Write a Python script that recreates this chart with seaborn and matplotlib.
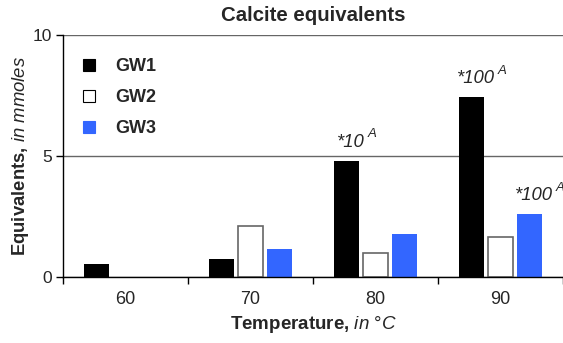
import matplotlib.pyplot as plt
import seaborn as sns
import numpy as np
import pandas as pd

sns.set_theme(style='white')
plt.rcParams['font.family'] = ['Liberation Sans', 'DejaVu Sans']
plt.rcParams['mathtext.fontset'] = 'custom'
plt.rcParams['mathtext.rm'] = 'Liberation Sans'
plt.rcParams['mathtext.it'] = 'Liberation Sans:italic'
plt.rcParams['mathtext.bf'] = 'Liberation Sans:bold'

# data
temps = ['60', '70', '80', '90']
gw1 = [0.56, 0.76, 4.81, 7.43]
gw2 = [0.0, 2.13, 1.00, 1.66]
gw3 = [0.0, 1.15, 1.77, 2.60]
series = ['GW1', 'GW2', 'GW3']
# annotations: (series index, category index, text)
notes = [(0, 2, '*10'), (0, 3, '*100'), (2, 3, '*100')]

df = pd.DataFrame({'temp': temps * 3,
                   'value': gw1 + gw2 + gw3,
                   'series': [s for s in series for _ in temps]})

fig = plt.figure(figsize=(5.63, 3.43), dpi=100)
ax = fig.add_axes([0.112, 0.192, 0.888, 0.706])

pal = {'GW1': 'black', 'GW2': 'white', 'GW3': '#3366ff'}
sns.barplot(data=df, x='temp', y='value', hue='series', palette=pal,
            width=0.7, gap=0.15, saturation=1, ax=ax, legend=False)
for i, cont in enumerate(ax.containers):
    for p in cont:
        if i == 1 and p.get_height() > 0:
            p.set_edgecolor('#666666')
            p.set_linewidth(1.2)
        else:
            p.set_edgecolor('none')

ax.set_ylim(0, 10)
ax.set_xlim(-0.5, 3.5)
ax.set_yticks([0, 5, 10])
ax.yaxis.grid(True, color='#666666', linewidth=1)
ax.set_axisbelow(True)
ax.set_xticks(np.arange(-0.5, 4, 1), minor=True)
ax.tick_params(axis='x', which='major', length=0, pad=10, labelsize=13)
ax.tick_params(axis='x', which='minor', length=5, width=1, color='black', direction='out', bottom=True)
ax.tick_params(axis='y', length=5, width=1, color='black', direction='out', left=True, labelsize=12.5, pad=3)
for s in ['top', 'right']:
    ax.spines[s].set_visible(False)
for s in ['left', 'bottom']:
    ax.spines[s].set_color('black')
    ax.spines[s].set_linewidth(1)

ax.set_title('Calcite equivalents', fontsize=14.7, fontweight='bold', pad=10)
ax.set_xlabel(r'Temperature, $\mathit{in\ °C}$', fontsize=13.5, fontweight='bold', labelpad=4)
ax.set_ylabel(r'Equivalents, $\mathit{in\ mmoles}$', fontsize=13.3, fontweight='bold', labelpad=1)

for si, ci, txt in notes:
    p = ax.containers[si][ci]
    t = ax.annotate(txt, xy=(p.get_x() + p.get_width() / 2, p.get_height()),
                    xytext=(3, 7), textcoords='offset points',
                    ha='center', va='bottom', fontsize=13.3, style='italic')
    ax.annotate('A', xy=(1, 0.62), xycoords=t, xytext=(2, 0), textcoords='offset points',
                ha='left', va='bottom', fontsize=9.5, style='italic')

handles = [plt.Line2D([], [], marker='s', linestyle='none', markersize=8.5,
                      markerfacecolor=pal[s], markeredgecolor='black' if s != 'GW3' else pal[s],
                      markeredgewidth=0.8) for s in series]
leg = ax.legend(handles, series, loc='upper left', frameon=False, bbox_to_anchor=(0.0376, 0.905),
                prop={'weight': 'bold', 'size': 13}, labelspacing=0.78, handlelength=0.8,
                handletextpad=1.05, borderaxespad=0, borderpad=0)

fig.savefig('out.png', dpi=100)
